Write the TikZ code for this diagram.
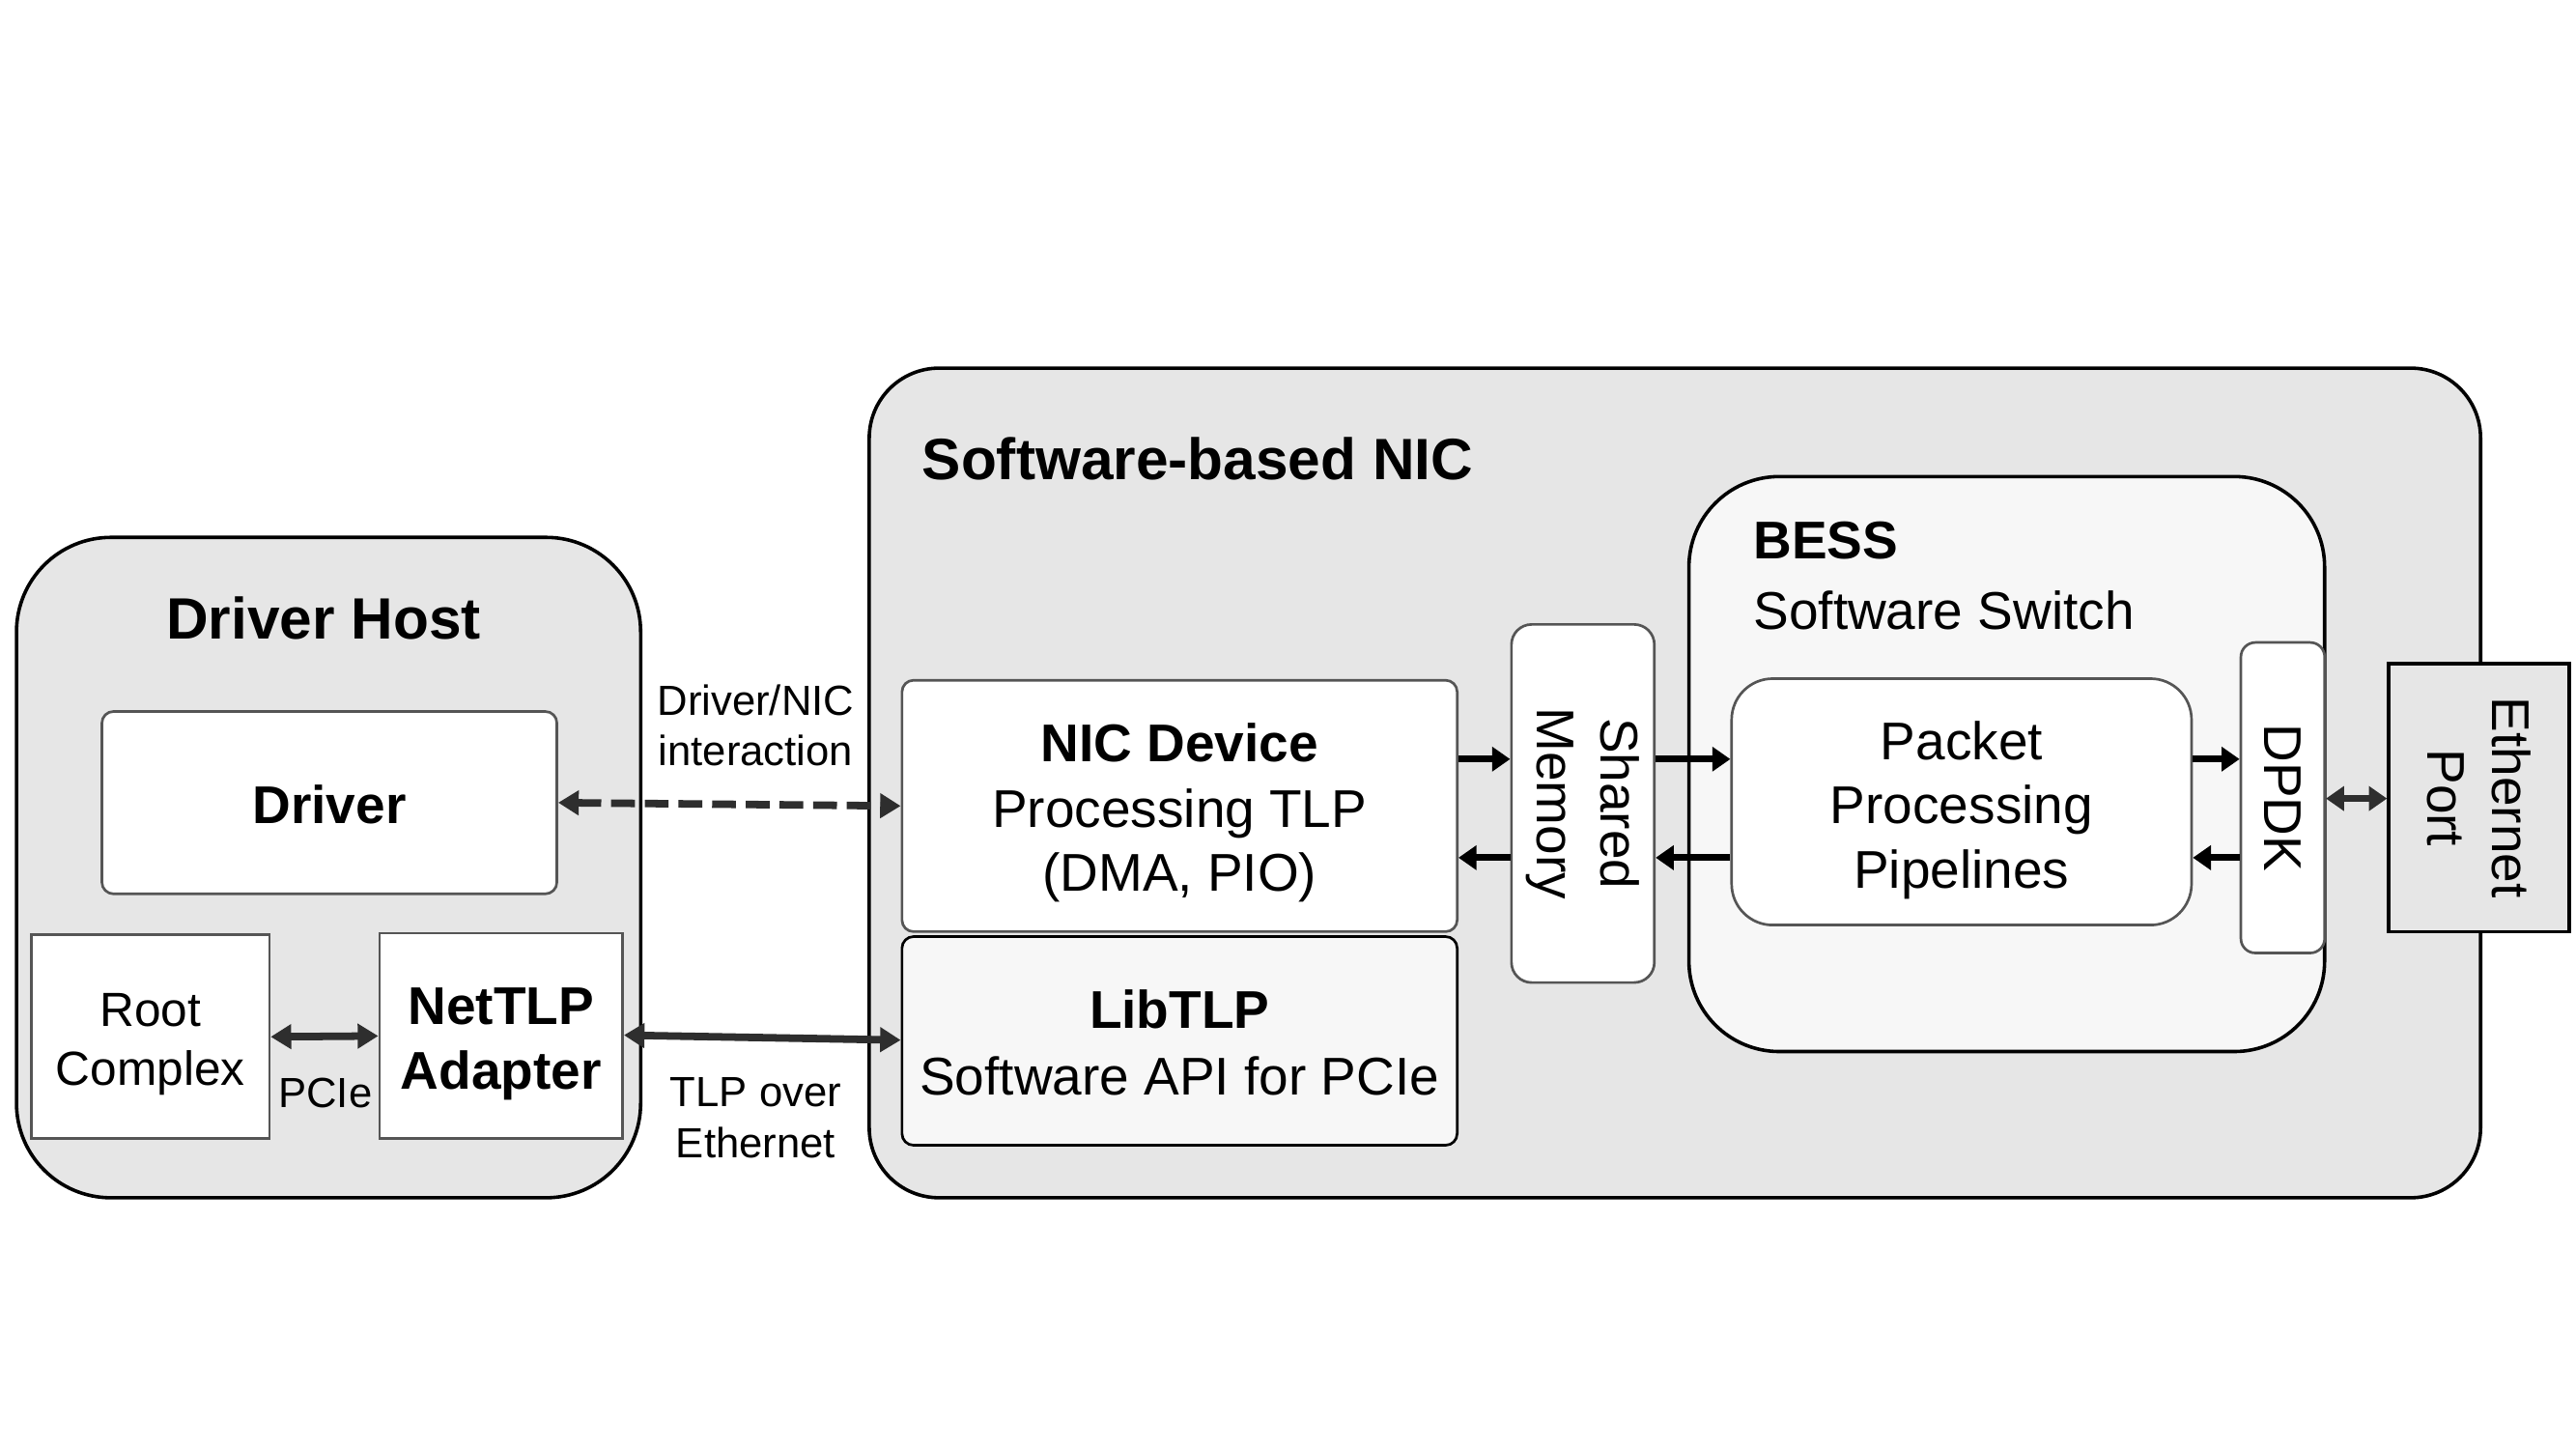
\documentclass[tikz,border=0pt]{standalone}
\usepackage{fontspec}
\setmainfont{Liberation Sans}
\usetikzlibrary{arrows.meta}
\newcommand\fsbig{\fontsize{20.2}{24}\selectfont}
\newcommand\fsbox{\fontsize{18.4}{22.2}\selectfont}
\newcommand\fsroot{\fontsize{16.6}{20.5}\selectfont}
\newcommand\fslab{\fontsize{14.6}{17.6}\selectfont}
\definecolor{outerfill}{HTML}{E6E6E6}
\definecolor{lightfill}{HTML}{F7F7F7}
\definecolor{boxline}{HTML}{555555}
\definecolor{arrgray}{HTML}{2E2E2E}
\tikzset{
  container/.style={draw=black, line width=1.2pt, fill=outerfill, inner sep=0pt},
  innerbox/.style={draw=boxline, line width=0.9pt, fill=white, rounded corners=4pt, inner sep=0pt},
  sqbox/.style={draw=boxline, line width=0.9pt, fill=white, inner sep=0pt},
  txt/.style={inner sep=0pt, align=center, font=\fsbox},
  lab/.style={inner sep=0pt, align=center, font=\fslab},
  tip/.style={Triangle[length=0.22cm,width=0.29cm]},
  arr/.style={line width=2.4pt, -{Triangle[length=0.22cm,width=0.29cm]}},
  darr/.style={line width=2.6pt, {Triangle[length=0.25cm,width=0.29cm]}-{Triangle[length=0.25cm,width=0.29cm]}},
}
\begin{document}
\begin{tikzpicture}[x=0.02cm,y=-0.02cm]
\useasboundingbox[fill=white] (0,0) rectangle (1568,882);

% Driver Host
\node[container, rounded corners=1.15cm, minimum width=7.6cm, minimum height=8.04cm] (host) at (200,528) {};
\node[inner sep=0pt, font=\fsbig\bfseries, anchor=base] (hosttitle) at (197,389) {Driver Host};
\node[innerbox, minimum width=5.54cm, minimum height=2.22cm] (driver) at (200.5,488.5) {};
\node[txt, font=\fsbox\bfseries] (drivertext) at ([yshift=-0.02cm]driver.center) {Driver};
\node[sqbox, minimum width=2.9cm, minimum height=2.48cm] (root) at (91.5,631) {};
\node[txt, font=\fsroot] (roottext) at ([yshift=-0.09cm]root.center) {Root\\Complex};
\node[sqbox, minimum width=2.96cm, minimum height=2.5cm] (nettlp) at (305,630.5) {};
\node[txt, font=\fsbox\bfseries] (nettlptext) at ([yshift=-0.1cm]nettlp.center) {NetTLP\\Adapter};

% Software-based NIC
\node[container, rounded corners=0.85cm, minimum width=19.62cm, minimum height=10.1cm] (nic) at (1019.5,476.5) {};
\node[inner sep=0pt, font=\fsbig\bfseries, anchor=base west] (nictitle) at (561,292) {Software-based NIC};
\node[innerbox, minimum width=6.76cm, minimum height=3.06cm] (nicdev) at (718,490.5) {};
\node[txt] (nicdevtext) at ([yshift=-0.08cm]nicdev.center) {\textbf{NIC Device}\\[0.5pt]Processing TLP\\(DMA, PIO)};
\node[innerbox, draw=black, fill=lightfill, minimum width=6.76cm, minimum height=2.54cm] (libtlp) at (718,633.5) {};
\node[txt] (libtlptext) at ([yshift=-0.02cm]libtlp.center) {\textbf{LibTLP}\\[1pt]Software API for PCIe};
\node[innerbox, rounded corners=7pt, minimum width=1.74cm, minimum height=4.36cm] (shm) at (963.5,489) {};
\node[txt, rotate=-90] (shmtext) at (shm.center) {Shared\\Memory};

% BESS
\node[container, fill=lightfill, rounded corners=1.1cm, minimum width=7.74cm, minimum height=7.0cm] (bess) at (1221.5,465) {};
\node[inner sep=0pt, font=\fsbox\bfseries, anchor=base west] (besstitle) at (1067,340) {BESS};
\node[inner sep=0pt, font=\fsbox, anchor=base west] (besssub) at (1067,383) {Software Switch};
\node[innerbox, rounded corners=0.5cm, minimum width=5.6cm, minimum height=3.0cm] (ppp) at (1194,488) {};
\node[txt] (ppptext) at ([yshift=-0.1cm]ppp.center) {Packet\\Processing\\Pipelines};
\node[innerbox, rounded corners=5pt, minimum width=1.02cm, minimum height=3.78cm] (dpdk) at (1389.5,485.5) {};
\node[txt, rotate=-90] (dpdktext) at (dpdk.center) {DPDK};

% Ethernet Port
\node[draw=black, line width=1.2pt, fill=outerfill, inner sep=0pt, minimum width=2.2cm, minimum height=3.26cm] (eth) at (1509,485.5) {};
\node[txt, rotate=-90] (ethtext) at (eth.center) {Ethernet\\Port};

% helper y levels
\coordinate (ytop) at (0,462);
\coordinate (ybot) at (0,522);
\coordinate (ymid) at (0,486);

% connectors
\draw[darr, arrgray, dash pattern=on 0.29cm off 0.12cm] (driver.east) -- (nicdev.west);
\node[lab] (lab1) at (460,441.5) {Driver/NIC\\interaction};

\draw[darr, arrgray] (root.east) -- (nettlp.west);
\node[lab] (lab2) at (198,665) {PCIe};

\draw[darr, arrgray] (nettlp.east |- 0,630) -- (libtlp.west |- 0,633);
\node[lab] (lab3) at (460,680.5) {TLP over\\Ethernet};

\draw[arr] (nicdev.east |- ytop) -- (shm.west |- ytop);
\draw[arr] (shm.west |- ybot) -- (nicdev.east |- ybot);
\draw[arr] (shm.east |- ytop) -- (ppp.west |- ytop);
\draw[arr] (ppp.west |- ybot) -- (shm.east |- ybot);
\draw[arr] (ppp.east |- ytop) -- (dpdk.west |- ytop);
\draw[arr] (dpdk.west |- ybot) -- (ppp.east |- ybot);
\draw[arrgray, line width=2.4pt, {Triangle[length=0.22cm,width=0.29cm]}-{Triangle[length=0.22cm,width=0.29cm]}] (dpdk.east |- ymid) -- (eth.west |- ymid);
\end{tikzpicture}
\end{document}
